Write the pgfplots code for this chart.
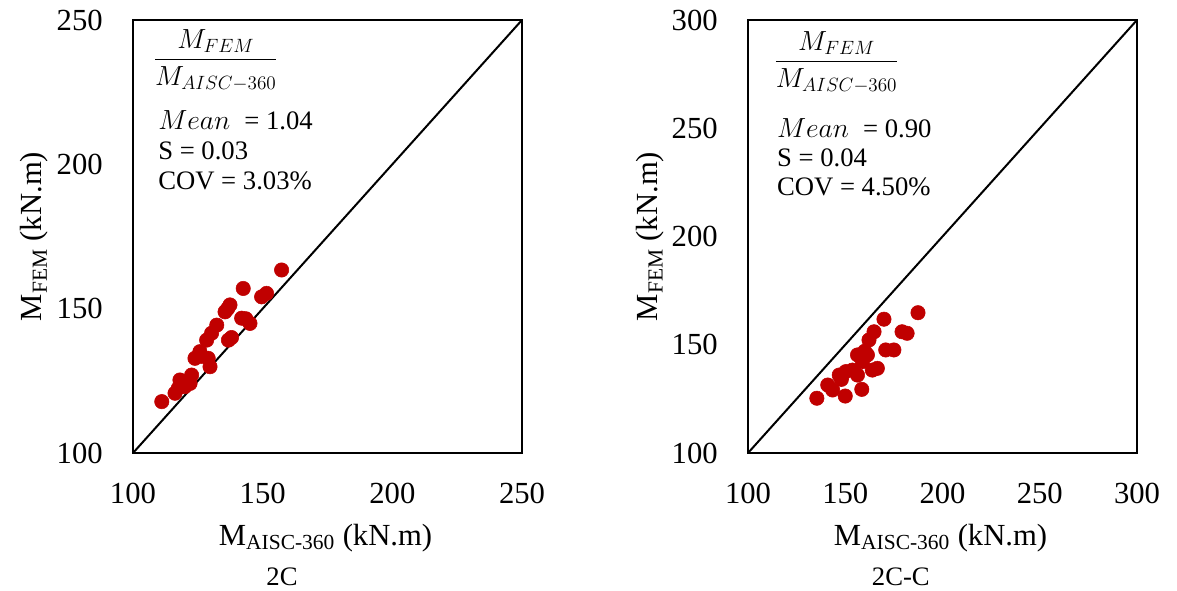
\documentclass[border=0pt]{standalone}
\usepackage{pgfplots}
\pgfplotsset{compat=1.18}
\usepackage{amsmath}
\usepackage{fontspec}
\setmainfont{Liberation Serif}
\definecolor{dotred}{RGB}{192,0,0}
\pgfplotsset{
  myax/.style={
    scale only axis,
    width=291.75pt, height=324.75pt,
    axis line style={black, line width=1.3pt},
    tick style={draw=none},
    /pgf/number format/assume math mode=true,
    tick label style={font=\fontsize{23}{25}\selectfont, inner sep=0pt},
    xticklabel style={anchor=base, yshift=-37.5pt},
    yticklabel style={anchor=east, xshift=-22.5pt},
    label style={font=\fontsize{23}{25}\selectfont, inner sep=0pt},
    xlabel={M\textsubscript{AISC-360} (kN.m)},
    ylabel={M\textsubscript{FEM} (kN.m)},
    clip=false,
  },
  pts/.style={only marks, mark=*, mark size=5.4pt, mark options={draw=dotred, fill=dotred}},
}
\begin{document}
\begin{tikzpicture}
\useasboundingbox (-99.75pt,-102.75pt) rectangle (783pt,339.75pt);
\begin{axis}[myax, xmin=100, xmax=250, ymin=100, ymax=250,
  xtick={100,150,200,250}, ytick={100,150,200,250},
  xlabel style={at={(rel axis cs:0.495,-0.2125)}, anchor=base},
  ylabel style={at={(rel axis cs:-0.234,0.5)}, anchor=base}]
\addplot[black, line width=1.5pt, no marks] coordinates {(100,100) (250,250)};
\addplot[pts] coordinates {
(111.1,117.8) (116.2,120.7) (118.1,125.3) (122.0,124.1) (122.6,127.0)
(117.5,122.5) (120.0,123.0) (123.9,132.8) (125.8,135.1) (129.0,132.8)
(129.7,129.9) (128.4,139.1) (130.3,141.5) (132.3,144.3) (135.5,148.9)
(137.4,151.3) (136.8,139.1) (138.0,140.0) (142.5,157.0) (141.9,146.7)
(143.5,146.5) (145.1,144.9) (149.6,154.1) (151.5,155.3) (157.3,163.4)
(136.5,150.0) (126.5,133.5)
};
\node[anchor=base west, inner sep=0pt, font=\fontsize{20}{22}\selectfont]
  at (rel axis cs:0.052,0.8921) {$\displaystyle\frac{\;M_{FEM}\;}{M_{AISC-360}}$};
\node[anchor=base west, inner sep=0pt, font=\fontsize{20}{22}\selectfont]
  at (rel axis cs:0.0643,0.748) {$Mean$\; = 1.04};
\node[anchor=base west, inner sep=0pt, font=\fontsize{20}{22}\selectfont]
  at (rel axis cs:0.0643,0.6767) {S = 0.03};
\node[anchor=base west, inner sep=0pt, font=\fontsize{20}{22}\selectfont]
  at (rel axis cs:0.0643,0.6074) {COV = 3.03\%};
\node[anchor=base, inner sep=0pt, font=\fontsize{20}{22}\selectfont] at (rel axis cs:0.383,-0.305) {2C};
\end{axis}
\begin{axis}[myax, at={(461.25pt,0pt)}, xmin=100, xmax=300, ymin=100, ymax=300,
  xtick={100,150,200,250,300}, ytick={100,150,200,250,300},
  xlabel style={at={(rel axis cs:0.495,-0.2125)}, anchor=base},
  ylabel style={at={(rel axis cs:-0.232,0.5)}, anchor=base}]
\addplot[black, line width=1.5pt, no marks] coordinates {(100,100) (300,300)};
\addplot[pts] coordinates {
(135.4,125.3) (141.0,131.4) (143.5,129.1) (150.0,126.3) (158.5,129.4)
(146.9,136.0) (150.3,137.6) (153.7,138.3) (156.3,136.0) (156.3,145.3)
(161.4,145.3) (162.2,152.2) (164.8,156.0) (166.5,139.1) (169.9,161.8)
(170.8,147.6) (175.0,147.6) (179.2,156.0) (181.8,155.3) (187.4,164.8)
(163.9,138.3) (158.8,142.2) (160.0,147.0) (148.0,134.0)
};
\node[anchor=base west, inner sep=0pt, font=\fontsize{20}{22}\selectfont]
  at (rel axis cs:0.067,0.8875) {$\displaystyle\frac{\;M_{FEM}\;}{M_{AISC-360}}$};
\node[anchor=base west, inner sep=0pt, font=\fontsize{20}{22}\selectfont]
  at (rel axis cs:0.074,0.7275) {$Mean$\; = 0.90};
\node[anchor=base west, inner sep=0pt, font=\fontsize{20}{22}\selectfont]
  at (rel axis cs:0.074,0.6628) {S = 0.04};
\node[anchor=base west, inner sep=0pt, font=\fontsize{20}{22}\selectfont]
  at (rel axis cs:0.074,0.5958) {COV = 4.50\%};
\node[anchor=base, inner sep=0pt, font=\fontsize{20}{22}\selectfont] at (rel axis cs:0.393,-0.305) {2C-C};
\end{axis}
\end{tikzpicture}
\end{document}
